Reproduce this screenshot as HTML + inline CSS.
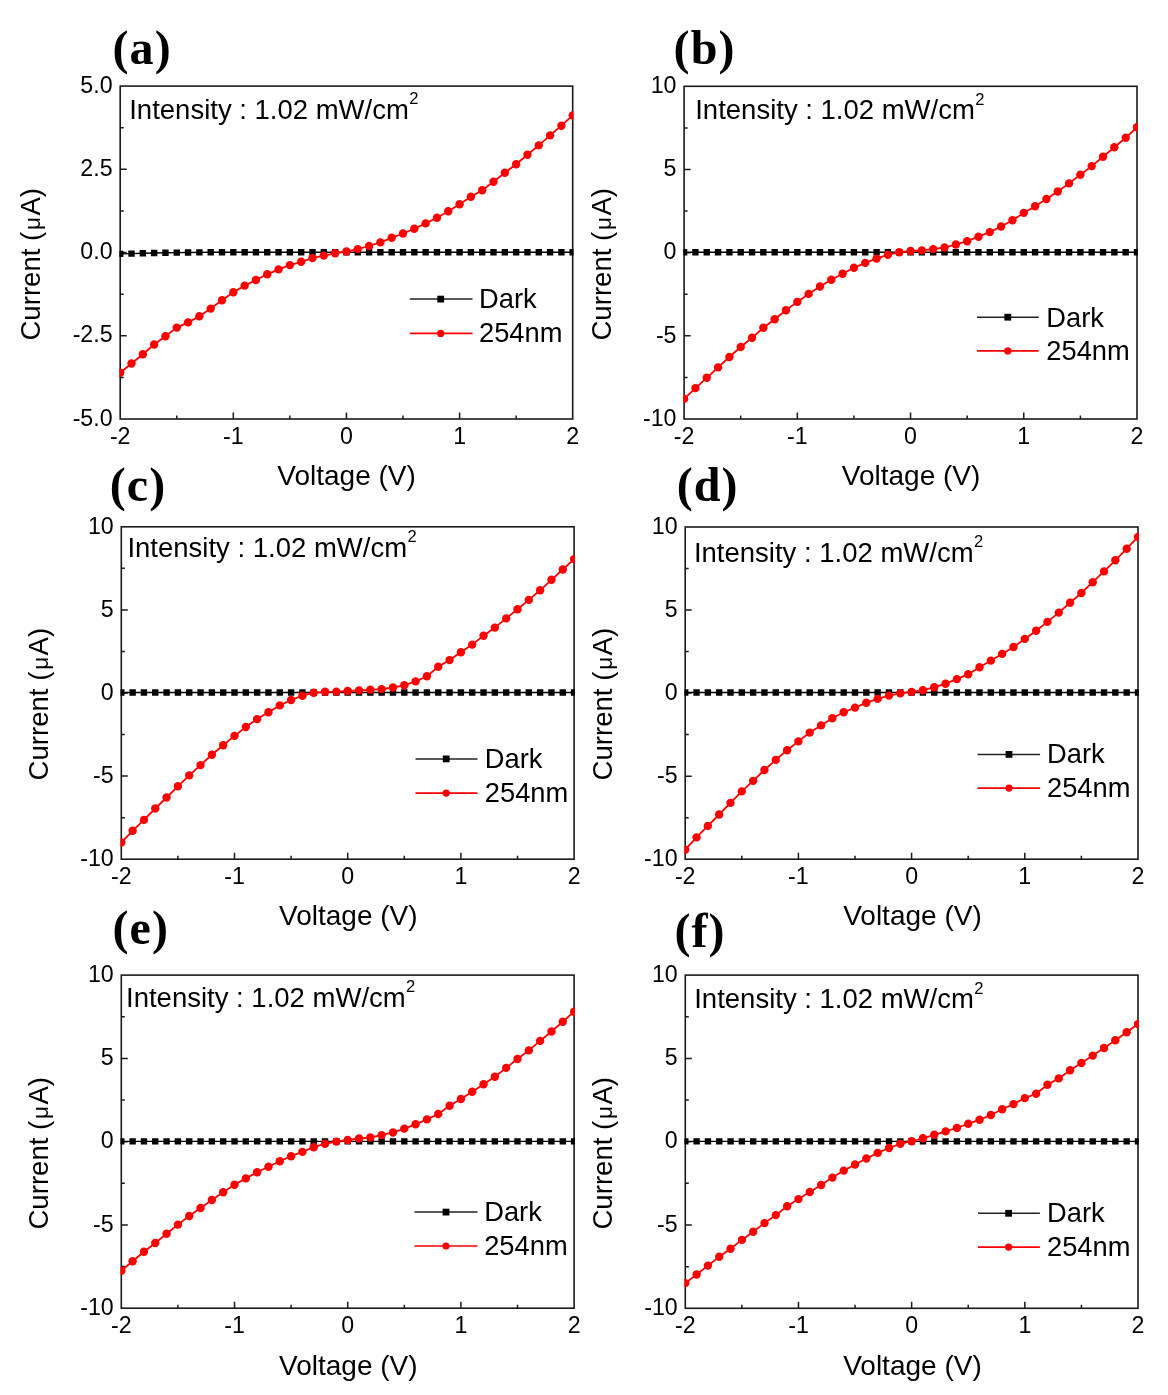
<!DOCTYPE html>
<html><head><meta charset="utf-8"><title>I-V curves</title>
<style>
html,body{margin:0;padding:0;background:#fff;}
svg{display:block;filter:blur(0.6px);}
.t{font-family:"Liberation Sans", sans-serif;fill:#000;}
.s{font-family:"Liberation Serif", serif;font-weight:bold;fill:#000;}
</style></head><body>

<svg width="1168" height="1395" viewBox="0 0 1168 1395">
<rect x="0" y="0" width="1168" height="1395" fill="#fff"/>
<defs><clipPath id="clipa"><rect x="119.4" y="85.3" width="454.1" height="334.5"/></clipPath><clipPath id="clipb"><rect x="683.3" y="85.5" width="454.5" height="334.3"/></clipPath><clipPath id="clipc"><rect x="120.5" y="526" width="454.4" height="334"/></clipPath><clipPath id="clipd"><rect x="684.4" y="526.2" width="454.4" height="333.8"/></clipPath><clipPath id="clipe"><rect x="120.5" y="974.3" width="454.4" height="334.7"/></clipPath><clipPath id="clipf"><rect x="684.5" y="974.3" width="454.3" height="334.8"/></clipPath></defs>
<g><rect x="120.2" y="86.1" width="452.5" height="332.9" fill="none" stroke="#1a1a1a" stroke-width="1.6"/>
<path d="M176.76 419V415.5M120.2 127.71H123.7M233.33 419V412.5M120.2 169.32H126.7M289.89 419V415.5M120.2 210.94H123.7M346.45 419V412.5M120.2 252.55H126.7M403.01 419V415.5M120.2 294.16H123.7M459.58 419V412.5M120.2 335.77H126.7M516.14 419V415.5M120.2 377.39H123.7" stroke="#1a1a1a" stroke-width="1.5" fill="none"/>
<text class="t" x="112.6" y="92.8" font-size="23.2" text-anchor="end">5.0</text>
<text class="t" x="112.6" y="176.02" font-size="23.2" text-anchor="end">2.5</text>
<text class="t" x="112.6" y="259.25" font-size="23.2" text-anchor="end">0.0</text>
<text class="t" x="112.6" y="342.47" font-size="23.2" text-anchor="end">-2.5</text>
<text class="t" x="112.6" y="425.7" font-size="23.2" text-anchor="end">-5.0</text>
<text class="t" x="120.2" y="444" font-size="23.2" text-anchor="middle">-2</text>
<text class="t" x="233.33" y="444" font-size="23.2" text-anchor="middle">-1</text>
<text class="t" x="346.45" y="444" font-size="23.2" text-anchor="middle">0</text>
<text class="t" x="459.58" y="444" font-size="23.2" text-anchor="middle">1</text>
<text class="t" x="572.7" y="444" font-size="23.2" text-anchor="middle">2</text>
<g clip-path="url(#clipa)"><polyline points="120.2,253.9 131.51,253.6 142.83,253.3 154.14,253 165.45,252.8 176.76,252.6 188.08,252.5 199.39,252.4 210.7,252.3 222.01,252.3 233.33,252.2 244.64,252.2 255.95,252.2 267.26,252.2 278.58,252.2 289.89,252.2 301.2,252.2 312.51,252.2 323.83,252.2 335.14,252.2 346.45,252.2 357.76,252.2 369.08,252.2 380.39,252.2 391.7,252.2 403.01,252.2 414.33,252.2 425.64,252.2 436.95,252.2 448.26,252.2 459.58,252.2 470.89,252.2 482.2,252.2 493.51,252.2 504.83,252.2 516.14,252.2 527.45,252.2 538.76,252.2 550.08,252.2 561.39,252.2 572.7,252.2" fill="none" stroke="#000" stroke-width="1.4"/><path d="M117 250.7h6.4v6.4h-6.4zM128.31 250.4h6.4v6.4h-6.4zM139.63 250.1h6.4v6.4h-6.4zM150.94 249.8h6.4v6.4h-6.4zM162.25 249.6h6.4v6.4h-6.4zM173.56 249.4h6.4v6.4h-6.4zM184.88 249.3h6.4v6.4h-6.4zM196.19 249.2h6.4v6.4h-6.4zM207.5 249.1h6.4v6.4h-6.4zM218.81 249.1h6.4v6.4h-6.4zM230.13 249h6.4v6.4h-6.4zM241.44 249h6.4v6.4h-6.4zM252.75 249h6.4v6.4h-6.4zM264.06 249h6.4v6.4h-6.4zM275.38 249h6.4v6.4h-6.4zM286.69 249h6.4v6.4h-6.4zM298 249h6.4v6.4h-6.4zM309.31 249h6.4v6.4h-6.4zM320.63 249h6.4v6.4h-6.4zM331.94 249h6.4v6.4h-6.4zM343.25 249h6.4v6.4h-6.4zM354.56 249h6.4v6.4h-6.4zM365.88 249h6.4v6.4h-6.4zM377.19 249h6.4v6.4h-6.4zM388.5 249h6.4v6.4h-6.4zM399.81 249h6.4v6.4h-6.4zM411.13 249h6.4v6.4h-6.4zM422.44 249h6.4v6.4h-6.4zM433.75 249h6.4v6.4h-6.4zM445.06 249h6.4v6.4h-6.4zM456.38 249h6.4v6.4h-6.4zM467.69 249h6.4v6.4h-6.4zM479 249h6.4v6.4h-6.4zM490.31 249h6.4v6.4h-6.4zM501.63 249h6.4v6.4h-6.4zM512.94 249h6.4v6.4h-6.4zM524.25 249h6.4v6.4h-6.4zM535.56 249h6.4v6.4h-6.4zM546.88 249h6.4v6.4h-6.4zM558.19 249h6.4v6.4h-6.4zM569.5 249h6.4v6.4h-6.4z" fill="#000"/><polyline points="120.2,372.8 131.51,363.5 142.83,354.3 154.14,344.5 165.45,336.3 176.76,327.6 188.08,322.4 199.39,316.3 210.7,308.6 222.01,300.3 233.33,292.2 244.64,285.6 255.95,280 267.26,274.3 278.58,269.4 289.89,265.1 301.2,261.8 312.51,258.1 323.83,255.6 335.14,253.3 346.45,251.5 357.76,249.1 369.08,246 380.39,242.4 391.7,237.8 403.01,233.5 414.33,228.8 425.64,223.4 436.95,217.8 448.26,211.3 459.58,204.2 470.89,196.8 482.2,190.2 493.51,181.7 504.83,172.7 516.14,164.2 527.45,154.7 538.76,145.4 550.08,135.4 561.39,125.7 572.7,115.4" fill="none" stroke="#f00" stroke-width="1.8"/><g fill="#f00"><circle cx="120.2" cy="372.8" r="4.2"/><circle cx="131.51" cy="363.5" r="4.2"/><circle cx="142.83" cy="354.3" r="4.2"/><circle cx="154.14" cy="344.5" r="4.2"/><circle cx="165.45" cy="336.3" r="4.2"/><circle cx="176.76" cy="327.6" r="4.2"/><circle cx="188.08" cy="322.4" r="4.2"/><circle cx="199.39" cy="316.3" r="4.2"/><circle cx="210.7" cy="308.6" r="4.2"/><circle cx="222.01" cy="300.3" r="4.2"/><circle cx="233.33" cy="292.2" r="4.2"/><circle cx="244.64" cy="285.6" r="4.2"/><circle cx="255.95" cy="280" r="4.2"/><circle cx="267.26" cy="274.3" r="4.2"/><circle cx="278.58" cy="269.4" r="4.2"/><circle cx="289.89" cy="265.1" r="4.2"/><circle cx="301.2" cy="261.8" r="4.2"/><circle cx="312.51" cy="258.1" r="4.2"/><circle cx="323.83" cy="255.6" r="4.2"/><circle cx="335.14" cy="253.3" r="4.2"/><circle cx="346.45" cy="251.5" r="4.2"/><circle cx="357.76" cy="249.1" r="4.2"/><circle cx="369.08" cy="246" r="4.2"/><circle cx="380.39" cy="242.4" r="4.2"/><circle cx="391.7" cy="237.8" r="4.2"/><circle cx="403.01" cy="233.5" r="4.2"/><circle cx="414.33" cy="228.8" r="4.2"/><circle cx="425.64" cy="223.4" r="4.2"/><circle cx="436.95" cy="217.8" r="4.2"/><circle cx="448.26" cy="211.3" r="4.2"/><circle cx="459.58" cy="204.2" r="4.2"/><circle cx="470.89" cy="196.8" r="4.2"/><circle cx="482.2" cy="190.2" r="4.2"/><circle cx="493.51" cy="181.7" r="4.2"/><circle cx="504.83" cy="172.7" r="4.2"/><circle cx="516.14" cy="164.2" r="4.2"/><circle cx="527.45" cy="154.7" r="4.2"/><circle cx="538.76" cy="145.4" r="4.2"/><circle cx="550.08" cy="135.4" r="4.2"/><circle cx="561.39" cy="125.7" r="4.2"/><circle cx="572.7" cy="115.4" r="4.2"/></g></g>
<line x1="409.8" y1="299.1" x2="472.5" y2="299.1" stroke="#222" stroke-width="1.5"/>
<rect x="437.3" y="295.7" width="6.8" height="6.8" fill="#000"/>
<line x1="409.8" y1="333.4" x2="472.5" y2="333.4" stroke="#f00" stroke-width="1.7"/>
<circle cx="440.7" cy="333.4" r="3.6" fill="#f00"/>
<text class="t" x="479" y="308" font-size="27.3">Dark</text>
<text class="t" x="479" y="342.3" font-size="27.3">254nm</text>
<text class="t" x="129.22" y="118.5" font-size="27.5">Intensity : 1.02 mW/cm<tspan dx="0.3" dy="-14.4" font-size="16.5">2</tspan></text>
<text class="t" x="277.3" y="485.4" font-size="28.0">Voltage (V)</text>
<text class="t" transform="translate(40.4 340.58) rotate(-90)" font-size="27.6">Current (<tspan dx="1.8" font-size="22.5">μ</tspan><tspan dx="1.4">A)</tspan></text>
<text class="s" x="112.48" y="63.5" font-size="48.0" letter-spacing="1.1">(a)</text></g>
<g><rect x="684.1" y="86.3" width="452.9" height="332.7" fill="none" stroke="#1a1a1a" stroke-width="1.6"/>
<path d="M740.71 419V415.5M684.1 127.89H687.6M797.33 419V412.5M684.1 169.47H690.6M853.94 419V415.5M684.1 211.06H687.6M910.55 419V412.5M684.1 252.65H690.6M967.16 419V415.5M684.1 294.24H687.6M1023.77 419V412.5M684.1 335.82H690.6M1080.39 419V415.5M684.1 377.41H687.6" stroke="#1a1a1a" stroke-width="1.5" fill="none"/>
<text class="t" x="676.5" y="93" font-size="23.2" text-anchor="end">10</text>
<text class="t" x="676.5" y="176.17" font-size="23.2" text-anchor="end">5</text>
<text class="t" x="676.5" y="259.35" font-size="23.2" text-anchor="end">0</text>
<text class="t" x="676.5" y="342.52" font-size="23.2" text-anchor="end">-5</text>
<text class="t" x="676.5" y="425.7" font-size="23.2" text-anchor="end">-10</text>
<text class="t" x="684.1" y="444" font-size="23.2" text-anchor="middle">-2</text>
<text class="t" x="797.33" y="444" font-size="23.2" text-anchor="middle">-1</text>
<text class="t" x="910.55" y="444" font-size="23.2" text-anchor="middle">0</text>
<text class="t" x="1023.77" y="444" font-size="23.2" text-anchor="middle">1</text>
<text class="t" x="1137" y="444" font-size="23.2" text-anchor="middle">2</text>
<g clip-path="url(#clipb)"><polyline points="684.1,252.2 695.42,252.2 706.75,252.2 718.07,252.2 729.39,252.2 740.71,252.2 752.03,252.2 763.36,252.2 774.68,252.2 786,252.2 797.33,252.2 808.65,252.2 819.97,252.2 831.29,252.2 842.62,252.2 853.94,252.2 865.26,252.2 876.58,252.2 887.9,252.2 899.23,252.2 910.55,252.2 921.87,252.2 933.19,252.2 944.52,252.2 955.84,252.2 967.16,252.2 978.49,252.2 989.81,252.2 1001.13,252.2 1012.45,252.2 1023.78,252.2 1035.1,252.2 1046.42,252.2 1057.74,252.2 1069.07,252.2 1080.39,252.2 1091.71,252.2 1103.03,252.2 1114.36,252.2 1125.68,252.2 1137,252.2" fill="none" stroke="#000" stroke-width="1.4"/><path d="M680.9 249h6.4v6.4h-6.4zM692.22 249h6.4v6.4h-6.4zM703.54 249h6.4v6.4h-6.4zM714.87 249h6.4v6.4h-6.4zM726.19 249h6.4v6.4h-6.4zM737.51 249h6.4v6.4h-6.4zM748.83 249h6.4v6.4h-6.4zM760.16 249h6.4v6.4h-6.4zM771.48 249h6.4v6.4h-6.4zM782.8 249h6.4v6.4h-6.4zM794.12 249h6.4v6.4h-6.4zM805.45 249h6.4v6.4h-6.4zM816.77 249h6.4v6.4h-6.4zM828.09 249h6.4v6.4h-6.4zM839.41 249h6.4v6.4h-6.4zM850.74 249h6.4v6.4h-6.4zM862.06 249h6.4v6.4h-6.4zM873.38 249h6.4v6.4h-6.4zM884.7 249h6.4v6.4h-6.4zM896.03 249h6.4v6.4h-6.4zM907.35 249h6.4v6.4h-6.4zM918.67 249h6.4v6.4h-6.4zM929.99 249h6.4v6.4h-6.4zM941.32 249h6.4v6.4h-6.4zM952.64 249h6.4v6.4h-6.4zM963.96 249h6.4v6.4h-6.4zM975.28 249h6.4v6.4h-6.4zM986.61 249h6.4v6.4h-6.4zM997.93 249h6.4v6.4h-6.4zM1009.25 249h6.4v6.4h-6.4zM1020.58 249h6.4v6.4h-6.4zM1031.9 249h6.4v6.4h-6.4zM1043.22 249h6.4v6.4h-6.4zM1054.54 249h6.4v6.4h-6.4zM1065.87 249h6.4v6.4h-6.4zM1077.19 249h6.4v6.4h-6.4zM1088.51 249h6.4v6.4h-6.4zM1099.83 249h6.4v6.4h-6.4zM1111.15 249h6.4v6.4h-6.4zM1122.48 249h6.4v6.4h-6.4zM1133.8 249h6.4v6.4h-6.4z" fill="#000"/><polyline points="684.1,398.9 695.42,388.1 706.75,377.8 718.07,367.4 729.39,357 740.71,347 752.03,337.8 763.36,327.8 774.68,319.2 786,310.3 797.33,301.9 808.65,293.9 819.97,286.5 831.29,279.8 842.62,273.7 853.94,267.8 865.26,262.9 876.58,258.6 887.9,254.7 899.23,252.3 910.55,251 921.87,250.4 933.19,249.1 944.52,247.5 955.84,244.5 967.16,241.2 978.49,236.7 989.81,232.1 1001.13,226.5 1012.45,220.3 1023.78,212.9 1035.1,206.2 1046.42,199 1057.74,191.5 1069.07,183.4 1080.39,174.7 1091.71,166.1 1103.03,156.8 1114.36,147.2 1125.68,137.7 1137,127.3" fill="none" stroke="#f00" stroke-width="1.8"/><g fill="#f00"><circle cx="684.1" cy="398.9" r="4.2"/><circle cx="695.42" cy="388.1" r="4.2"/><circle cx="706.75" cy="377.8" r="4.2"/><circle cx="718.07" cy="367.4" r="4.2"/><circle cx="729.39" cy="357" r="4.2"/><circle cx="740.71" cy="347" r="4.2"/><circle cx="752.03" cy="337.8" r="4.2"/><circle cx="763.36" cy="327.8" r="4.2"/><circle cx="774.68" cy="319.2" r="4.2"/><circle cx="786" cy="310.3" r="4.2"/><circle cx="797.33" cy="301.9" r="4.2"/><circle cx="808.65" cy="293.9" r="4.2"/><circle cx="819.97" cy="286.5" r="4.2"/><circle cx="831.29" cy="279.8" r="4.2"/><circle cx="842.62" cy="273.7" r="4.2"/><circle cx="853.94" cy="267.8" r="4.2"/><circle cx="865.26" cy="262.9" r="4.2"/><circle cx="876.58" cy="258.6" r="4.2"/><circle cx="887.9" cy="254.7" r="4.2"/><circle cx="899.23" cy="252.3" r="4.2"/><circle cx="910.55" cy="251" r="4.2"/><circle cx="921.87" cy="250.4" r="4.2"/><circle cx="933.19" cy="249.1" r="4.2"/><circle cx="944.52" cy="247.5" r="4.2"/><circle cx="955.84" cy="244.5" r="4.2"/><circle cx="967.16" cy="241.2" r="4.2"/><circle cx="978.49" cy="236.7" r="4.2"/><circle cx="989.81" cy="232.1" r="4.2"/><circle cx="1001.13" cy="226.5" r="4.2"/><circle cx="1012.45" cy="220.3" r="4.2"/><circle cx="1023.78" cy="212.9" r="4.2"/><circle cx="1035.1" cy="206.2" r="4.2"/><circle cx="1046.42" cy="199" r="4.2"/><circle cx="1057.74" cy="191.5" r="4.2"/><circle cx="1069.07" cy="183.4" r="4.2"/><circle cx="1080.39" cy="174.7" r="4.2"/><circle cx="1091.71" cy="166.1" r="4.2"/><circle cx="1103.03" cy="156.8" r="4.2"/><circle cx="1114.36" cy="147.2" r="4.2"/><circle cx="1125.68" cy="137.7" r="4.2"/><circle cx="1137" cy="127.3" r="4.2"/></g></g>
<line x1="977" y1="317.2" x2="1038.7" y2="317.2" stroke="#222" stroke-width="1.5"/>
<rect x="1004.4" y="313.8" width="6.8" height="6.8" fill="#000"/>
<line x1="977" y1="350.9" x2="1038.7" y2="350.9" stroke="#f00" stroke-width="1.7"/>
<circle cx="1007.8" cy="350.9" r="3.6" fill="#f00"/>
<text class="t" x="1046.3" y="326.5" font-size="27.3">Dark</text>
<text class="t" x="1046.3" y="360.4" font-size="27.3">254nm</text>
<text class="t" x="695.23" y="119" font-size="27.5">Intensity : 1.02 mW/cm<tspan dx="0.3" dy="-14.4" font-size="16.5">2</tspan></text>
<text class="t" x="841.8" y="485.4" font-size="28.0">Voltage (V)</text>
<text class="t" transform="translate(611 340.58) rotate(-90)" font-size="27.6">Current (<tspan dx="1.8" font-size="22.5">μ</tspan><tspan dx="1.4">A)</tspan></text>
<text class="s" x="673.58" y="63.5" font-size="48.0" letter-spacing="1.1">(b)</text></g>
<g><rect x="121.3" y="526.8" width="452.8" height="332.4" fill="none" stroke="#1a1a1a" stroke-width="1.6"/>
<path d="M177.9 859.2V855.7M121.3 568.35H124.8M234.5 859.2V852.7M121.3 609.9H127.8M291.1 859.2V855.7M121.3 651.45H124.8M347.7 859.2V852.7M121.3 693H127.8M404.3 859.2V855.7M121.3 734.55H124.8M460.9 859.2V852.7M121.3 776.1H127.8M517.5 859.2V855.7M121.3 817.65H124.8" stroke="#1a1a1a" stroke-width="1.5" fill="none"/>
<text class="t" x="113.7" y="533.5" font-size="23.2" text-anchor="end">10</text>
<text class="t" x="113.7" y="616.6" font-size="23.2" text-anchor="end">5</text>
<text class="t" x="113.7" y="699.7" font-size="23.2" text-anchor="end">0</text>
<text class="t" x="113.7" y="782.8" font-size="23.2" text-anchor="end">-5</text>
<text class="t" x="113.7" y="865.9" font-size="23.2" text-anchor="end">-10</text>
<text class="t" x="121.3" y="884.2" font-size="23.2" text-anchor="middle">-2</text>
<text class="t" x="234.5" y="884.2" font-size="23.2" text-anchor="middle">-1</text>
<text class="t" x="347.7" y="884.2" font-size="23.2" text-anchor="middle">0</text>
<text class="t" x="460.9" y="884.2" font-size="23.2" text-anchor="middle">1</text>
<text class="t" x="574.1" y="884.2" font-size="23.2" text-anchor="middle">2</text>
<g clip-path="url(#clipc)"><polyline points="121.3,692.5 132.62,692.5 143.94,692.5 155.26,692.5 166.58,692.5 177.9,692.5 189.22,692.5 200.54,692.5 211.86,692.5 223.18,692.5 234.5,692.5 245.82,692.5 257.14,692.5 268.46,692.5 279.78,692.5 291.1,692.5 302.42,692.5 313.74,692.5 325.06,692.5 336.38,692.5 347.7,692.5 359.02,692.5 370.34,692.5 381.66,692.5 392.98,692.5 404.3,692.5 415.62,692.5 426.94,692.5 438.26,692.5 449.58,692.5 460.9,692.5 472.22,692.5 483.54,692.5 494.86,692.5 506.18,692.5 517.5,692.5 528.82,692.5 540.14,692.5 551.46,692.5 562.78,692.5 574.1,692.5" fill="none" stroke="#000" stroke-width="1.4"/><path d="M118.1 689.3h6.4v6.4h-6.4zM129.42 689.3h6.4v6.4h-6.4zM140.74 689.3h6.4v6.4h-6.4zM152.06 689.3h6.4v6.4h-6.4zM163.38 689.3h6.4v6.4h-6.4zM174.7 689.3h6.4v6.4h-6.4zM186.02 689.3h6.4v6.4h-6.4zM197.34 689.3h6.4v6.4h-6.4zM208.66 689.3h6.4v6.4h-6.4zM219.98 689.3h6.4v6.4h-6.4zM231.3 689.3h6.4v6.4h-6.4zM242.62 689.3h6.4v6.4h-6.4zM253.94 689.3h6.4v6.4h-6.4zM265.26 689.3h6.4v6.4h-6.4zM276.58 689.3h6.4v6.4h-6.4zM287.9 689.3h6.4v6.4h-6.4zM299.22 689.3h6.4v6.4h-6.4zM310.54 689.3h6.4v6.4h-6.4zM321.86 689.3h6.4v6.4h-6.4zM333.18 689.3h6.4v6.4h-6.4zM344.5 689.3h6.4v6.4h-6.4zM355.82 689.3h6.4v6.4h-6.4zM367.14 689.3h6.4v6.4h-6.4zM378.46 689.3h6.4v6.4h-6.4zM389.78 689.3h6.4v6.4h-6.4zM401.1 689.3h6.4v6.4h-6.4zM412.42 689.3h6.4v6.4h-6.4zM423.74 689.3h6.4v6.4h-6.4zM435.06 689.3h6.4v6.4h-6.4zM446.38 689.3h6.4v6.4h-6.4zM457.7 689.3h6.4v6.4h-6.4zM469.02 689.3h6.4v6.4h-6.4zM480.34 689.3h6.4v6.4h-6.4zM491.66 689.3h6.4v6.4h-6.4zM502.98 689.3h6.4v6.4h-6.4zM514.3 689.3h6.4v6.4h-6.4zM525.62 689.3h6.4v6.4h-6.4zM536.94 689.3h6.4v6.4h-6.4zM548.26 689.3h6.4v6.4h-6.4zM559.58 689.3h6.4v6.4h-6.4zM570.9 689.3h6.4v6.4h-6.4z" fill="#000"/><polyline points="121.3,842.5 132.62,830.8 143.94,819.9 155.26,808.5 166.58,797.5 177.9,786.3 189.22,775.4 200.54,765.1 211.86,754.8 223.18,745.3 234.5,735.85 245.82,727 257.14,719.1 268.46,712.3 279.78,705.4 291.1,700 302.42,695.7 313.74,692.8 325.06,691.8 336.38,691.6 347.7,691 359.02,690.4 370.34,689.8 381.66,689.1 392.98,687.5 404.3,685.3 415.62,681.4 426.94,676.2 438.26,666.8 449.58,660.1 460.9,652.3 472.22,644.6 483.54,635.7 494.86,627.6 506.18,618.4 517.5,609.2 528.82,599.9 540.14,590.3 551.46,579.8 562.78,569.5 574.1,559.1" fill="none" stroke="#f00" stroke-width="1.8"/><g fill="#f00"><circle cx="121.3" cy="842.5" r="4.2"/><circle cx="132.62" cy="830.8" r="4.2"/><circle cx="143.94" cy="819.9" r="4.2"/><circle cx="155.26" cy="808.5" r="4.2"/><circle cx="166.58" cy="797.5" r="4.2"/><circle cx="177.9" cy="786.3" r="4.2"/><circle cx="189.22" cy="775.4" r="4.2"/><circle cx="200.54" cy="765.1" r="4.2"/><circle cx="211.86" cy="754.8" r="4.2"/><circle cx="223.18" cy="745.3" r="4.2"/><circle cx="234.5" cy="735.85" r="4.2"/><circle cx="245.82" cy="727" r="4.2"/><circle cx="257.14" cy="719.1" r="4.2"/><circle cx="268.46" cy="712.3" r="4.2"/><circle cx="279.78" cy="705.4" r="4.2"/><circle cx="291.1" cy="700" r="4.2"/><circle cx="302.42" cy="695.7" r="4.2"/><circle cx="313.74" cy="692.8" r="4.2"/><circle cx="325.06" cy="691.8" r="4.2"/><circle cx="336.38" cy="691.6" r="4.2"/><circle cx="347.7" cy="691" r="4.2"/><circle cx="359.02" cy="690.4" r="4.2"/><circle cx="370.34" cy="689.8" r="4.2"/><circle cx="381.66" cy="689.1" r="4.2"/><circle cx="392.98" cy="687.5" r="4.2"/><circle cx="404.3" cy="685.3" r="4.2"/><circle cx="415.62" cy="681.4" r="4.2"/><circle cx="426.94" cy="676.2" r="4.2"/><circle cx="438.26" cy="666.8" r="4.2"/><circle cx="449.58" cy="660.1" r="4.2"/><circle cx="460.9" cy="652.3" r="4.2"/><circle cx="472.22" cy="644.6" r="4.2"/><circle cx="483.54" cy="635.7" r="4.2"/><circle cx="494.86" cy="627.6" r="4.2"/><circle cx="506.18" cy="618.4" r="4.2"/><circle cx="517.5" cy="609.2" r="4.2"/><circle cx="528.82" cy="599.9" r="4.2"/><circle cx="540.14" cy="590.3" r="4.2"/><circle cx="551.46" cy="579.8" r="4.2"/><circle cx="562.78" cy="569.5" r="4.2"/><circle cx="574.1" cy="559.1" r="4.2"/></g></g>
<line x1="415.5" y1="758.9" x2="477.5" y2="758.9" stroke="#222" stroke-width="1.5"/>
<rect x="442.8" y="755.5" width="6.8" height="6.8" fill="#000"/>
<line x1="415.5" y1="793.1" x2="477.5" y2="793.1" stroke="#f00" stroke-width="1.7"/>
<circle cx="446.2" cy="793.1" r="3.6" fill="#f00"/>
<text class="t" x="484.8" y="767.7" font-size="27.3">Dark</text>
<text class="t" x="484.8" y="802.3" font-size="27.3">254nm</text>
<text class="t" x="127.43" y="556.8" font-size="27.5">Intensity : 1.02 mW/cm<tspan dx="0.3" dy="-14.4" font-size="16.5">2</tspan></text>
<text class="t" x="279.1" y="925.4" font-size="28.0">Voltage (V)</text>
<text class="t" transform="translate(48.4 780.48) rotate(-90)" font-size="27.6">Current (<tspan dx="1.8" font-size="22.5">μ</tspan><tspan dx="1.4">A)</tspan></text>
<text class="s" x="109.78" y="501.2" font-size="48.0" letter-spacing="1.1">(c)</text></g>
<g><rect x="685.2" y="527" width="452.8" height="332.2" fill="none" stroke="#1a1a1a" stroke-width="1.6"/>
<path d="M741.8 859.2V855.7M685.2 568.52H688.7M798.4 859.2V852.7M685.2 610.05H691.7M855 859.2V855.7M685.2 651.58H688.7M911.6 859.2V852.7M685.2 693.1H691.7M968.2 859.2V855.7M685.2 734.62H688.7M1024.8 859.2V852.7M685.2 776.15H691.7M1081.4 859.2V855.7M685.2 817.68H688.7" stroke="#1a1a1a" stroke-width="1.5" fill="none"/>
<text class="t" x="677.6" y="533.7" font-size="23.2" text-anchor="end">10</text>
<text class="t" x="677.6" y="616.75" font-size="23.2" text-anchor="end">5</text>
<text class="t" x="677.6" y="699.8" font-size="23.2" text-anchor="end">0</text>
<text class="t" x="677.6" y="782.85" font-size="23.2" text-anchor="end">-5</text>
<text class="t" x="677.6" y="865.9" font-size="23.2" text-anchor="end">-10</text>
<text class="t" x="685.2" y="884.2" font-size="23.2" text-anchor="middle">-2</text>
<text class="t" x="798.4" y="884.2" font-size="23.2" text-anchor="middle">-1</text>
<text class="t" x="911.6" y="884.2" font-size="23.2" text-anchor="middle">0</text>
<text class="t" x="1024.8" y="884.2" font-size="23.2" text-anchor="middle">1</text>
<text class="t" x="1138" y="884.2" font-size="23.2" text-anchor="middle">2</text>
<g clip-path="url(#clipd)"><polyline points="685.2,692.5 696.52,692.5 707.84,692.5 719.16,692.5 730.48,692.5 741.8,692.5 753.12,692.5 764.44,692.5 775.76,692.5 787.08,692.5 798.4,692.5 809.72,692.5 821.04,692.5 832.36,692.5 843.68,692.5 855,692.5 866.32,692.5 877.64,692.5 888.96,692.5 900.28,692.5 911.6,692.5 922.92,692.5 934.24,692.5 945.56,692.5 956.88,692.5 968.2,692.5 979.52,692.5 990.84,692.5 1002.16,692.5 1013.48,692.5 1024.8,692.5 1036.12,692.5 1047.44,692.5 1058.76,692.5 1070.08,692.5 1081.4,692.5 1092.72,692.5 1104.04,692.5 1115.36,692.5 1126.68,692.5 1138,692.5" fill="none" stroke="#000" stroke-width="1.4"/><path d="M682 689.3h6.4v6.4h-6.4zM693.32 689.3h6.4v6.4h-6.4zM704.64 689.3h6.4v6.4h-6.4zM715.96 689.3h6.4v6.4h-6.4zM727.28 689.3h6.4v6.4h-6.4zM738.6 689.3h6.4v6.4h-6.4zM749.92 689.3h6.4v6.4h-6.4zM761.24 689.3h6.4v6.4h-6.4zM772.56 689.3h6.4v6.4h-6.4zM783.88 689.3h6.4v6.4h-6.4zM795.2 689.3h6.4v6.4h-6.4zM806.52 689.3h6.4v6.4h-6.4zM817.84 689.3h6.4v6.4h-6.4zM829.16 689.3h6.4v6.4h-6.4zM840.48 689.3h6.4v6.4h-6.4zM851.8 689.3h6.4v6.4h-6.4zM863.12 689.3h6.4v6.4h-6.4zM874.44 689.3h6.4v6.4h-6.4zM885.76 689.3h6.4v6.4h-6.4zM897.08 689.3h6.4v6.4h-6.4zM908.4 689.3h6.4v6.4h-6.4zM919.72 689.3h6.4v6.4h-6.4zM931.04 689.3h6.4v6.4h-6.4zM942.36 689.3h6.4v6.4h-6.4zM953.68 689.3h6.4v6.4h-6.4zM965 689.3h6.4v6.4h-6.4zM976.32 689.3h6.4v6.4h-6.4zM987.64 689.3h6.4v6.4h-6.4zM998.96 689.3h6.4v6.4h-6.4zM1010.28 689.3h6.4v6.4h-6.4zM1021.6 689.3h6.4v6.4h-6.4zM1032.92 689.3h6.4v6.4h-6.4zM1044.24 689.3h6.4v6.4h-6.4zM1055.56 689.3h6.4v6.4h-6.4zM1066.88 689.3h6.4v6.4h-6.4zM1078.2 689.3h6.4v6.4h-6.4zM1089.52 689.3h6.4v6.4h-6.4zM1100.84 689.3h6.4v6.4h-6.4zM1112.16 689.3h6.4v6.4h-6.4zM1123.48 689.3h6.4v6.4h-6.4zM1134.8 689.3h6.4v6.4h-6.4z" fill="#000"/><polyline points="685.2,849.7 696.52,837.4 707.84,825.9 719.16,814.5 730.48,802.9 741.8,791.4 753.12,780.9 764.44,770 775.76,759.9 787.08,750.2 798.4,741.4 809.72,732.6 821.04,725.4 832.36,718.2 843.68,712.3 855,707.6 866.32,702.8 877.64,698.9 888.96,695.6 900.28,693.4 911.6,691.9 922.92,690.2 934.24,687.3 945.56,683.7 956.88,679.1 968.2,674.2 979.52,667.3 990.84,660.6 1002.16,653.9 1013.48,647 1024.8,638.9 1036.12,630.8 1047.44,621.9 1058.76,612.6 1070.08,602.8 1081.4,593 1092.72,582.2 1104.04,571.4 1115.36,560.3 1126.68,548.7 1138,536.9" fill="none" stroke="#f00" stroke-width="1.8"/><g fill="#f00"><circle cx="685.2" cy="849.7" r="4.2"/><circle cx="696.52" cy="837.4" r="4.2"/><circle cx="707.84" cy="825.9" r="4.2"/><circle cx="719.16" cy="814.5" r="4.2"/><circle cx="730.48" cy="802.9" r="4.2"/><circle cx="741.8" cy="791.4" r="4.2"/><circle cx="753.12" cy="780.9" r="4.2"/><circle cx="764.44" cy="770" r="4.2"/><circle cx="775.76" cy="759.9" r="4.2"/><circle cx="787.08" cy="750.2" r="4.2"/><circle cx="798.4" cy="741.4" r="4.2"/><circle cx="809.72" cy="732.6" r="4.2"/><circle cx="821.04" cy="725.4" r="4.2"/><circle cx="832.36" cy="718.2" r="4.2"/><circle cx="843.68" cy="712.3" r="4.2"/><circle cx="855" cy="707.6" r="4.2"/><circle cx="866.32" cy="702.8" r="4.2"/><circle cx="877.64" cy="698.9" r="4.2"/><circle cx="888.96" cy="695.6" r="4.2"/><circle cx="900.28" cy="693.4" r="4.2"/><circle cx="911.6" cy="691.9" r="4.2"/><circle cx="922.92" cy="690.2" r="4.2"/><circle cx="934.24" cy="687.3" r="4.2"/><circle cx="945.56" cy="683.7" r="4.2"/><circle cx="956.88" cy="679.1" r="4.2"/><circle cx="968.2" cy="674.2" r="4.2"/><circle cx="979.52" cy="667.3" r="4.2"/><circle cx="990.84" cy="660.6" r="4.2"/><circle cx="1002.16" cy="653.9" r="4.2"/><circle cx="1013.48" cy="647" r="4.2"/><circle cx="1024.8" cy="638.9" r="4.2"/><circle cx="1036.12" cy="630.8" r="4.2"/><circle cx="1047.44" cy="621.9" r="4.2"/><circle cx="1058.76" cy="612.6" r="4.2"/><circle cx="1070.08" cy="602.8" r="4.2"/><circle cx="1081.4" cy="593" r="4.2"/><circle cx="1092.72" cy="582.2" r="4.2"/><circle cx="1104.04" cy="571.4" r="4.2"/><circle cx="1115.36" cy="560.3" r="4.2"/><circle cx="1126.68" cy="548.7" r="4.2"/><circle cx="1138" cy="536.9" r="4.2"/></g></g>
<line x1="977.6" y1="754.4" x2="1040.1" y2="754.4" stroke="#222" stroke-width="1.5"/>
<rect x="1005.6" y="751" width="6.8" height="6.8" fill="#000"/>
<line x1="977.6" y1="788.1" x2="1040.1" y2="788.1" stroke="#f00" stroke-width="1.7"/>
<circle cx="1009" cy="788.1" r="3.6" fill="#f00"/>
<text class="t" x="1047" y="762.9" font-size="27.3">Dark</text>
<text class="t" x="1047" y="797.3" font-size="27.3">254nm</text>
<text class="t" x="693.92" y="561.5" font-size="27.5">Intensity : 1.02 mW/cm<tspan dx="0.3" dy="-14.4" font-size="16.5">2</tspan></text>
<text class="t" x="843.2" y="925.4" font-size="28.0">Voltage (V)</text>
<text class="t" transform="translate(612.2 780.48) rotate(-90)" font-size="27.6">Current (<tspan dx="1.8" font-size="22.5">μ</tspan><tspan dx="1.4">A)</tspan></text>
<text class="s" x="676.68" y="501.2" font-size="48.0" letter-spacing="1.1">(d)</text></g>
<g><rect x="121.3" y="975.1" width="452.8" height="333.1" fill="none" stroke="#1a1a1a" stroke-width="1.6"/>
<path d="M177.9 1308.2V1304.7M121.3 1016.74H124.8M234.5 1308.2V1301.7M121.3 1058.38H127.8M291.1 1308.2V1304.7M121.3 1100.01H124.8M347.7 1308.2V1301.7M121.3 1141.65H127.8M404.3 1308.2V1304.7M121.3 1183.29H124.8M460.9 1308.2V1301.7M121.3 1224.92H127.8M517.5 1308.2V1304.7M121.3 1266.56H124.8" stroke="#1a1a1a" stroke-width="1.5" fill="none"/>
<text class="t" x="113.7" y="981.8" font-size="23.2" text-anchor="end">10</text>
<text class="t" x="113.7" y="1065.08" font-size="23.2" text-anchor="end">5</text>
<text class="t" x="113.7" y="1148.35" font-size="23.2" text-anchor="end">0</text>
<text class="t" x="113.7" y="1231.62" font-size="23.2" text-anchor="end">-5</text>
<text class="t" x="113.7" y="1314.9" font-size="23.2" text-anchor="end">-10</text>
<text class="t" x="121.3" y="1333.2" font-size="23.2" text-anchor="middle">-2</text>
<text class="t" x="234.5" y="1333.2" font-size="23.2" text-anchor="middle">-1</text>
<text class="t" x="347.7" y="1333.2" font-size="23.2" text-anchor="middle">0</text>
<text class="t" x="460.9" y="1333.2" font-size="23.2" text-anchor="middle">1</text>
<text class="t" x="574.1" y="1333.2" font-size="23.2" text-anchor="middle">2</text>
<g clip-path="url(#clipe)"><polyline points="121.3,1141.4 132.62,1141.4 143.94,1141.4 155.26,1141.4 166.58,1141.4 177.9,1141.4 189.22,1141.4 200.54,1141.4 211.86,1141.4 223.18,1141.4 234.5,1141.4 245.82,1141.4 257.14,1141.4 268.46,1141.4 279.78,1141.4 291.1,1141.4 302.42,1141.4 313.74,1141.4 325.06,1141.4 336.38,1141.4 347.7,1141.4 359.02,1141.4 370.34,1141.4 381.66,1141.4 392.98,1141.4 404.3,1141.4 415.62,1141.4 426.94,1141.4 438.26,1141.4 449.58,1141.4 460.9,1141.4 472.22,1141.4 483.54,1141.4 494.86,1141.4 506.18,1141.4 517.5,1141.4 528.82,1141.4 540.14,1141.4 551.46,1141.4 562.78,1141.4 574.1,1141.4" fill="none" stroke="#000" stroke-width="1.4"/><path d="M118.1 1138.2h6.4v6.4h-6.4zM129.42 1138.2h6.4v6.4h-6.4zM140.74 1138.2h6.4v6.4h-6.4zM152.06 1138.2h6.4v6.4h-6.4zM163.38 1138.2h6.4v6.4h-6.4zM174.7 1138.2h6.4v6.4h-6.4zM186.02 1138.2h6.4v6.4h-6.4zM197.34 1138.2h6.4v6.4h-6.4zM208.66 1138.2h6.4v6.4h-6.4zM219.98 1138.2h6.4v6.4h-6.4zM231.3 1138.2h6.4v6.4h-6.4zM242.62 1138.2h6.4v6.4h-6.4zM253.94 1138.2h6.4v6.4h-6.4zM265.26 1138.2h6.4v6.4h-6.4zM276.58 1138.2h6.4v6.4h-6.4zM287.9 1138.2h6.4v6.4h-6.4zM299.22 1138.2h6.4v6.4h-6.4zM310.54 1138.2h6.4v6.4h-6.4zM321.86 1138.2h6.4v6.4h-6.4zM333.18 1138.2h6.4v6.4h-6.4zM344.5 1138.2h6.4v6.4h-6.4zM355.82 1138.2h6.4v6.4h-6.4zM367.14 1138.2h6.4v6.4h-6.4zM378.46 1138.2h6.4v6.4h-6.4zM389.78 1138.2h6.4v6.4h-6.4zM401.1 1138.2h6.4v6.4h-6.4zM412.42 1138.2h6.4v6.4h-6.4zM423.74 1138.2h6.4v6.4h-6.4zM435.06 1138.2h6.4v6.4h-6.4zM446.38 1138.2h6.4v6.4h-6.4zM457.7 1138.2h6.4v6.4h-6.4zM469.02 1138.2h6.4v6.4h-6.4zM480.34 1138.2h6.4v6.4h-6.4zM491.66 1138.2h6.4v6.4h-6.4zM502.98 1138.2h6.4v6.4h-6.4zM514.3 1138.2h6.4v6.4h-6.4zM525.62 1138.2h6.4v6.4h-6.4zM536.94 1138.2h6.4v6.4h-6.4zM548.26 1138.2h6.4v6.4h-6.4zM559.58 1138.2h6.4v6.4h-6.4zM570.9 1138.2h6.4v6.4h-6.4z" fill="#000"/><polyline points="121.3,1270.8 132.62,1261.3 143.94,1251.8 155.26,1243 166.58,1233.8 177.9,1224.6 189.22,1216 200.54,1208 211.86,1200 223.18,1192.2 234.5,1184.75 245.82,1178.4 257.14,1172.2 268.46,1166.7 279.78,1161.3 291.1,1156.2 302.42,1151.9 313.74,1147.2 325.06,1143.8 336.38,1141.6 347.7,1140 359.02,1138.5 370.34,1137.5 381.66,1135.1 392.98,1132.5 404.3,1128.6 415.62,1124.3 426.94,1119.4 438.26,1114 449.58,1105.75 460.9,1099 472.22,1091.8 483.54,1084.3 494.86,1076.8 506.18,1067.9 517.5,1059 528.82,1050.4 540.14,1040.9 551.46,1031.5 562.78,1021.7 574.1,1011.7" fill="none" stroke="#f00" stroke-width="1.8"/><g fill="#f00"><circle cx="121.3" cy="1270.8" r="4.2"/><circle cx="132.62" cy="1261.3" r="4.2"/><circle cx="143.94" cy="1251.8" r="4.2"/><circle cx="155.26" cy="1243" r="4.2"/><circle cx="166.58" cy="1233.8" r="4.2"/><circle cx="177.9" cy="1224.6" r="4.2"/><circle cx="189.22" cy="1216" r="4.2"/><circle cx="200.54" cy="1208" r="4.2"/><circle cx="211.86" cy="1200" r="4.2"/><circle cx="223.18" cy="1192.2" r="4.2"/><circle cx="234.5" cy="1184.75" r="4.2"/><circle cx="245.82" cy="1178.4" r="4.2"/><circle cx="257.14" cy="1172.2" r="4.2"/><circle cx="268.46" cy="1166.7" r="4.2"/><circle cx="279.78" cy="1161.3" r="4.2"/><circle cx="291.1" cy="1156.2" r="4.2"/><circle cx="302.42" cy="1151.9" r="4.2"/><circle cx="313.74" cy="1147.2" r="4.2"/><circle cx="325.06" cy="1143.8" r="4.2"/><circle cx="336.38" cy="1141.6" r="4.2"/><circle cx="347.7" cy="1140" r="4.2"/><circle cx="359.02" cy="1138.5" r="4.2"/><circle cx="370.34" cy="1137.5" r="4.2"/><circle cx="381.66" cy="1135.1" r="4.2"/><circle cx="392.98" cy="1132.5" r="4.2"/><circle cx="404.3" cy="1128.6" r="4.2"/><circle cx="415.62" cy="1124.3" r="4.2"/><circle cx="426.94" cy="1119.4" r="4.2"/><circle cx="438.26" cy="1114" r="4.2"/><circle cx="449.58" cy="1105.75" r="4.2"/><circle cx="460.9" cy="1099" r="4.2"/><circle cx="472.22" cy="1091.8" r="4.2"/><circle cx="483.54" cy="1084.3" r="4.2"/><circle cx="494.86" cy="1076.8" r="4.2"/><circle cx="506.18" cy="1067.9" r="4.2"/><circle cx="517.5" cy="1059" r="4.2"/><circle cx="528.82" cy="1050.4" r="4.2"/><circle cx="540.14" cy="1040.9" r="4.2"/><circle cx="551.46" cy="1031.5" r="4.2"/><circle cx="562.78" cy="1021.7" r="4.2"/><circle cx="574.1" cy="1011.7" r="4.2"/></g></g>
<line x1="414.5" y1="1212.1" x2="477.5" y2="1212.1" stroke="#222" stroke-width="1.5"/>
<rect x="442.6" y="1208.7" width="6.8" height="6.8" fill="#000"/>
<line x1="414.5" y1="1246" x2="477.5" y2="1246" stroke="#f00" stroke-width="1.7"/>
<circle cx="446" cy="1246" r="3.6" fill="#f00"/>
<text class="t" x="484.2" y="1221.3" font-size="27.3">Dark</text>
<text class="t" x="484.2" y="1255.2" font-size="27.3">254nm</text>
<text class="t" x="126.03" y="1006.8" font-size="27.5">Intensity : 1.02 mW/cm<tspan dx="0.3" dy="-14.4" font-size="16.5">2</tspan></text>
<text class="t" x="279.1" y="1374.5" font-size="28.0">Voltage (V)</text>
<text class="t" transform="translate(48.4 1229.58) rotate(-90)" font-size="27.6">Current (<tspan dx="1.8" font-size="22.5">μ</tspan><tspan dx="1.4">A)</tspan></text>
<text class="s" x="112.48" y="943.5" font-size="48.0" letter-spacing="1.1">(e)</text></g>
<g><rect x="685.3" y="975.1" width="452.7" height="333.2" fill="none" stroke="#1a1a1a" stroke-width="1.6"/>
<path d="M741.89 1308.3V1304.8M685.3 1016.75H688.8M798.47 1308.3V1301.8M685.3 1058.4H691.8M855.06 1308.3V1304.8M685.3 1100.05H688.8M911.65 1308.3V1301.8M685.3 1141.7H691.8M968.24 1308.3V1304.8M685.3 1183.35H688.8M1024.83 1308.3V1301.8M685.3 1225H691.8M1081.41 1308.3V1304.8M685.3 1266.65H688.8" stroke="#1a1a1a" stroke-width="1.5" fill="none"/>
<text class="t" x="677.7" y="981.8" font-size="23.2" text-anchor="end">10</text>
<text class="t" x="677.7" y="1065.1" font-size="23.2" text-anchor="end">5</text>
<text class="t" x="677.7" y="1148.4" font-size="23.2" text-anchor="end">0</text>
<text class="t" x="677.7" y="1231.7" font-size="23.2" text-anchor="end">-5</text>
<text class="t" x="677.7" y="1315" font-size="23.2" text-anchor="end">-10</text>
<text class="t" x="685.3" y="1333.3" font-size="23.2" text-anchor="middle">-2</text>
<text class="t" x="798.47" y="1333.3" font-size="23.2" text-anchor="middle">-1</text>
<text class="t" x="911.65" y="1333.3" font-size="23.2" text-anchor="middle">0</text>
<text class="t" x="1024.83" y="1333.3" font-size="23.2" text-anchor="middle">1</text>
<text class="t" x="1138" y="1333.3" font-size="23.2" text-anchor="middle">2</text>
<g clip-path="url(#clipf)"><polyline points="685.3,1141.4 696.62,1141.4 707.93,1141.4 719.25,1141.4 730.57,1141.4 741.89,1141.4 753.2,1141.4 764.52,1141.4 775.84,1141.4 787.16,1141.4 798.47,1141.4 809.79,1141.4 821.11,1141.4 832.43,1141.4 843.75,1141.4 855.06,1141.4 866.38,1141.4 877.7,1141.4 889.01,1141.4 900.33,1141.4 911.65,1141.4 922.97,1141.4 934.28,1141.4 945.6,1141.4 956.92,1141.4 968.24,1141.4 979.55,1141.4 990.87,1141.4 1002.19,1141.4 1013.51,1141.4 1024.83,1141.4 1036.14,1141.4 1047.46,1141.4 1058.78,1141.4 1070.1,1141.4 1081.41,1141.4 1092.73,1141.4 1104.05,1141.4 1115.37,1141.4 1126.68,1141.4 1138,1141.4" fill="none" stroke="#000" stroke-width="1.4"/><path d="M682.1 1138.2h6.4v6.4h-6.4zM693.42 1138.2h6.4v6.4h-6.4zM704.73 1138.2h6.4v6.4h-6.4zM716.05 1138.2h6.4v6.4h-6.4zM727.37 1138.2h6.4v6.4h-6.4zM738.69 1138.2h6.4v6.4h-6.4zM750 1138.2h6.4v6.4h-6.4zM761.32 1138.2h6.4v6.4h-6.4zM772.64 1138.2h6.4v6.4h-6.4zM783.96 1138.2h6.4v6.4h-6.4zM795.27 1138.2h6.4v6.4h-6.4zM806.59 1138.2h6.4v6.4h-6.4zM817.91 1138.2h6.4v6.4h-6.4zM829.23 1138.2h6.4v6.4h-6.4zM840.54 1138.2h6.4v6.4h-6.4zM851.86 1138.2h6.4v6.4h-6.4zM863.18 1138.2h6.4v6.4h-6.4zM874.5 1138.2h6.4v6.4h-6.4zM885.81 1138.2h6.4v6.4h-6.4zM897.13 1138.2h6.4v6.4h-6.4zM908.45 1138.2h6.4v6.4h-6.4zM919.77 1138.2h6.4v6.4h-6.4zM931.08 1138.2h6.4v6.4h-6.4zM942.4 1138.2h6.4v6.4h-6.4zM953.72 1138.2h6.4v6.4h-6.4zM965.04 1138.2h6.4v6.4h-6.4zM976.35 1138.2h6.4v6.4h-6.4zM987.67 1138.2h6.4v6.4h-6.4zM998.99 1138.2h6.4v6.4h-6.4zM1010.31 1138.2h6.4v6.4h-6.4zM1021.62 1138.2h6.4v6.4h-6.4zM1032.94 1138.2h6.4v6.4h-6.4zM1044.26 1138.2h6.4v6.4h-6.4zM1055.58 1138.2h6.4v6.4h-6.4zM1066.89 1138.2h6.4v6.4h-6.4zM1078.21 1138.2h6.4v6.4h-6.4zM1089.53 1138.2h6.4v6.4h-6.4zM1100.85 1138.2h6.4v6.4h-6.4zM1112.16 1138.2h6.4v6.4h-6.4zM1123.48 1138.2h6.4v6.4h-6.4zM1134.8 1138.2h6.4v6.4h-6.4z" fill="#000"/><polyline points="685.3,1283.1 696.62,1274.5 707.93,1265.6 719.25,1256.7 730.57,1248.7 741.89,1239.9 753.2,1231.8 764.52,1223.1 775.84,1215.1 787.16,1206.3 798.47,1199.1 809.79,1192 821.11,1185 832.43,1177.6 843.75,1170.6 855.06,1164.5 866.38,1158.5 877.7,1152.9 889.01,1148 900.33,1143.8 911.65,1141.25 922.97,1138.3 934.28,1134.8 945.6,1131.4 956.92,1128 968.24,1123.7 979.55,1119.8 990.87,1115 1002.19,1109.3 1013.51,1104.1 1024.83,1098.1 1036.14,1093.8 1047.46,1084.8 1058.78,1078.4 1070.1,1070.3 1081.41,1063 1092.73,1055.6 1104.05,1048 1115.37,1040.3 1126.68,1032.2 1138,1024.1" fill="none" stroke="#f00" stroke-width="1.8"/><g fill="#f00"><circle cx="685.3" cy="1283.1" r="4.2"/><circle cx="696.62" cy="1274.5" r="4.2"/><circle cx="707.93" cy="1265.6" r="4.2"/><circle cx="719.25" cy="1256.7" r="4.2"/><circle cx="730.57" cy="1248.7" r="4.2"/><circle cx="741.89" cy="1239.9" r="4.2"/><circle cx="753.2" cy="1231.8" r="4.2"/><circle cx="764.52" cy="1223.1" r="4.2"/><circle cx="775.84" cy="1215.1" r="4.2"/><circle cx="787.16" cy="1206.3" r="4.2"/><circle cx="798.47" cy="1199.1" r="4.2"/><circle cx="809.79" cy="1192" r="4.2"/><circle cx="821.11" cy="1185" r="4.2"/><circle cx="832.43" cy="1177.6" r="4.2"/><circle cx="843.75" cy="1170.6" r="4.2"/><circle cx="855.06" cy="1164.5" r="4.2"/><circle cx="866.38" cy="1158.5" r="4.2"/><circle cx="877.7" cy="1152.9" r="4.2"/><circle cx="889.01" cy="1148" r="4.2"/><circle cx="900.33" cy="1143.8" r="4.2"/><circle cx="911.65" cy="1141.25" r="4.2"/><circle cx="922.97" cy="1138.3" r="4.2"/><circle cx="934.28" cy="1134.8" r="4.2"/><circle cx="945.6" cy="1131.4" r="4.2"/><circle cx="956.92" cy="1128" r="4.2"/><circle cx="968.24" cy="1123.7" r="4.2"/><circle cx="979.55" cy="1119.8" r="4.2"/><circle cx="990.87" cy="1115" r="4.2"/><circle cx="1002.19" cy="1109.3" r="4.2"/><circle cx="1013.51" cy="1104.1" r="4.2"/><circle cx="1024.83" cy="1098.1" r="4.2"/><circle cx="1036.14" cy="1093.8" r="4.2"/><circle cx="1047.46" cy="1084.8" r="4.2"/><circle cx="1058.78" cy="1078.4" r="4.2"/><circle cx="1070.1" cy="1070.3" r="4.2"/><circle cx="1081.41" cy="1063" r="4.2"/><circle cx="1092.73" cy="1055.6" r="4.2"/><circle cx="1104.05" cy="1048" r="4.2"/><circle cx="1115.37" cy="1040.3" r="4.2"/><circle cx="1126.68" cy="1032.2" r="4.2"/><circle cx="1138" cy="1024.1" r="4.2"/></g></g>
<line x1="978" y1="1213.3" x2="1039.9" y2="1213.3" stroke="#222" stroke-width="1.5"/>
<rect x="1005.2" y="1209.9" width="6.8" height="6.8" fill="#000"/>
<line x1="978" y1="1247.1" x2="1039.9" y2="1247.1" stroke="#f00" stroke-width="1.7"/>
<circle cx="1008.6" cy="1247.1" r="3.6" fill="#f00"/>
<text class="t" x="1047" y="1222" font-size="27.3">Dark</text>
<text class="t" x="1047" y="1255.9" font-size="27.3">254nm</text>
<text class="t" x="694.23" y="1008.4" font-size="27.5">Intensity : 1.02 mW/cm<tspan dx="0.3" dy="-14.4" font-size="16.5">2</tspan></text>
<text class="t" x="843.2" y="1375" font-size="28.0">Voltage (V)</text>
<text class="t" transform="translate(612.2 1229.58) rotate(-90)" font-size="27.6">Current (<tspan dx="1.8" font-size="22.5">μ</tspan><tspan dx="1.4">A)</tspan></text>
<text class="s" x="674.38" y="946.8" font-size="48.0" letter-spacing="1.1">(f)</text></g>
</svg>
</body></html>
